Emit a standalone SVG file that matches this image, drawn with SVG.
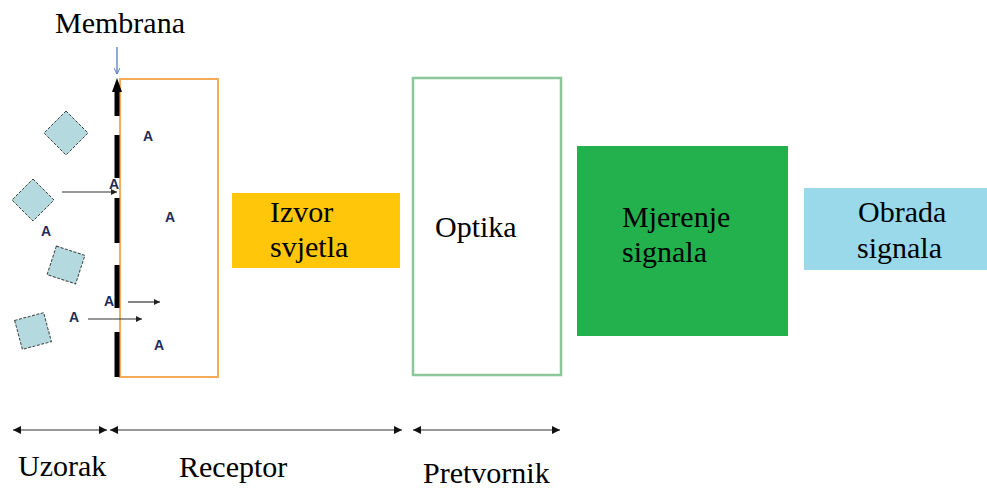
<svg xmlns="http://www.w3.org/2000/svg" width="987" height="488" viewBox="0 0 987 488">
<style>
.lbl{font-family:"Liberation Serif","Times New Roman",serif;font-size:30px;fill:#000}
.a{font-family:"Liberation Sans",Arial,sans-serif;font-size:14px;font-weight:bold;fill:#1f2a5c;text-anchor:middle}
.mol{fill:#b4dadf;stroke:#404040;stroke-width:1;stroke-dasharray:3 1.5}
.thin{stroke:#333;stroke-width:1.2;fill:none}
.mem{stroke:#000;stroke-width:5;fill:none}
</style>
<defs>
<marker id="ah" viewBox="0 0 10 10" refX="10" refY="5" markerWidth="8" markerHeight="8" markerUnits="userSpaceOnUse" orient="auto-start-reverse">
<path d="M0,0 L10,5 L0,10 z" fill="#111"/>
</marker>
<marker id="ahs" viewBox="0 0 10 10" refX="10" refY="5" markerWidth="7" markerHeight="6" markerUnits="userSpaceOnUse" orient="auto">
<path d="M0,0 L10,5 L0,10 z" fill="#222"/>
</marker>
<marker id="ahb" viewBox="0 0 10 10" refX="10" refY="5" markerWidth="6" markerHeight="6" markerUnits="userSpaceOnUse" orient="auto">
<path d="M0,0 L10,5 L0,10" fill="none" stroke="#4a6fc0" stroke-width="1.5"/>
</marker>
</defs>

<g id="receptor">
<rect x="120" y="79" width="98" height="298" fill="#fff" stroke="#f5ac5a" stroke-width="2"/>
</g>

<g id="membrana">
<text class="lbl" x="55" y="33">Membrana</text>
<line x1="117" y1="47" x2="117" y2="74" stroke="#4a6fc0" stroke-width="1.2" marker-end="url(#ahb)"/>
<path d="M117,78 L122,92 L112,92 z" fill="#000"/>
<line class="mem" x1="117" y1="90" x2="117" y2="116"/>
<line class="mem" x1="117" y1="135" x2="117" y2="178"/>
<line class="mem" x1="117" y1="198" x2="117" y2="243"/>
<line class="mem" x1="117" y1="265" x2="117" y2="308"/>
<line class="mem" x1="117" y1="332" x2="117" y2="377"/>
</g>

<g id="uzorak-molekule">
<polygon class="mol" points="66,111 88,133 66,155 44,133"/>
<polygon class="mol" points="33,179 54,200 33,221 12,200"/>
<rect class="mol" x="51" y="250" width="30" height="30" transform="rotate(18 66 265)"/>
<rect class="mol" x="18" y="316" width="30" height="30" transform="rotate(-15 33 331)"/>
</g>

<g id="analiti">
<text class="a" x="148" y="141">A</text>
<text class="a" x="114" y="189">A</text>
<text class="a" x="170" y="222">A</text>
<text class="a" x="46" y="236">A</text>
<text class="a" x="109" y="306">A</text>
<text class="a" x="74" y="322">A</text>
<text class="a" x="159" y="350">A</text>
</g>

<g id="connectors">
<line class="thin" x1="62" y1="192" x2="117" y2="192" marker-end="url(#ahs)"/>
<line class="thin" x1="128" y1="302" x2="160" y2="302" marker-end="url(#ahs)"/>
<line class="thin" x1="88" y1="319" x2="142" y2="319" marker-end="url(#ahs)"/>
<line class="thin" x1="13" y1="430" x2="107" y2="430" marker-start="url(#ah)" marker-end="url(#ah)"/>
<line class="thin" x1="110" y1="430" x2="402" y2="430" marker-start="url(#ah)" marker-end="url(#ah)"/>
<line class="thin" x1="413" y1="430" x2="560" y2="430" marker-start="url(#ah)" marker-end="url(#ah)"/>
</g>

<g id="izvor">
<rect x="232" y="193" width="168" height="75" fill="#ffc60a"/>
<text class="lbl" x="270" y="222">Izvor</text>
<text class="lbl" x="270" y="257">svjetla</text>
</g>

<g id="optika">
<rect x="413" y="78" width="148" height="297" fill="#fff" stroke="#8cc79a" stroke-width="2.5"/>
<text class="lbl" x="435" y="237">Optika</text>
</g>

<g id="mjerenje">
<rect x="577" y="146" width="211" height="190" fill="#22b14c"/>
<text class="lbl" x="622" y="227">Mjerenje</text>
<text class="lbl" x="622" y="262">signala</text>
</g>

<g id="obrada">
<rect x="804" y="188" width="183" height="82" fill="#99d9ea"/>
<text class="lbl" x="858" y="222">Obrada</text>
<text class="lbl" x="857" y="258">signala</text>
</g>

<g id="oznake">
<text class="lbl" x="18" y="476">Uzorak</text>
<text class="lbl" x="179" y="477">Receptor</text>
<text class="lbl" x="423" y="483">Pretvornik</text>
</g>
</svg>
